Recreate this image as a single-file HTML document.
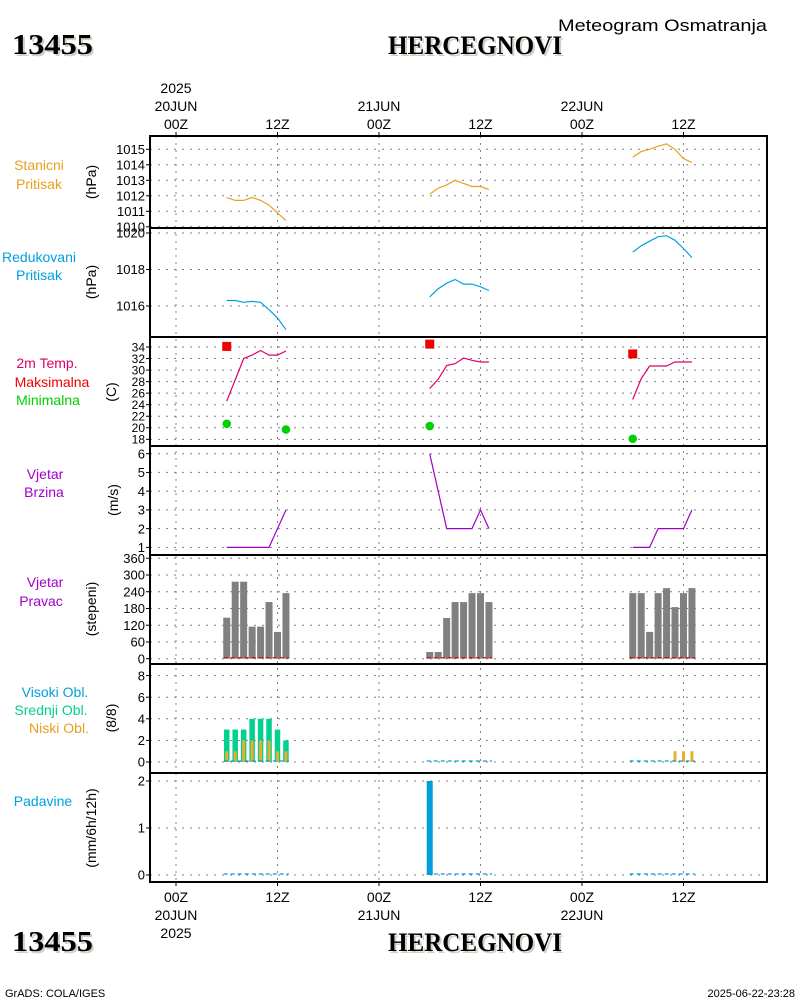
<!DOCTYPE html>
<html><head><meta charset="utf-8"><title>Meteogram</title>
<style>
html,body{margin:0;padding:0;background:#fff;}
svg{display:block;font-family:"Liberation Sans",sans-serif;}
</style></head>
<body>
<svg id="chart" width="800" height="1000" viewBox="0 0 800 1000" xmlns="http://www.w3.org/2000/svg">
<g id="titles">
  <text x="14" y="56" textLength="81" lengthAdjust="spacingAndGlyphs" font-family="Liberation Serif, serif" font-weight="bold" font-size="28" fill="#c8d4c4">13455</text>
  <text x="12" y="54" textLength="81" lengthAdjust="spacingAndGlyphs" font-family="Liberation Serif, serif" font-weight="bold" font-size="28" fill="#000">13455</text>
  <text x="390" y="56" textLength="174" lengthAdjust="spacingAndGlyphs" font-family="Liberation Serif, serif" font-weight="bold" font-size="26" fill="#c8d4c4">HERCEGNOVI</text>
  <text x="388" y="54" textLength="174" lengthAdjust="spacingAndGlyphs" font-family="Liberation Serif, serif" font-weight="bold" font-size="26" fill="#000">HERCEGNOVI</text>
  <text x="558" y="31" textLength="209" lengthAdjust="spacingAndGlyphs" font-size="17" fill="#000">Meteogram Osmatranja</text>
  <text x="14" y="953" textLength="81" lengthAdjust="spacingAndGlyphs" font-family="Liberation Serif, serif" font-weight="bold" font-size="28" fill="#c8d4c4">13455</text>
  <text x="12" y="951" textLength="81" lengthAdjust="spacingAndGlyphs" font-family="Liberation Serif, serif" font-weight="bold" font-size="28" fill="#000">13455</text>
  <text x="390" y="953" textLength="174" lengthAdjust="spacingAndGlyphs" font-family="Liberation Serif, serif" font-weight="bold" font-size="26" fill="#c8d4c4">HERCEGNOVI</text>
  <text x="388" y="951" textLength="174" lengthAdjust="spacingAndGlyphs" font-family="Liberation Serif, serif" font-weight="bold" font-size="26" fill="#000">HERCEGNOVI</text>
  <text x="5" y="997" font-size="11" fill="#000">GrADS: COLA/IGES</text>
  <text x="795" y="997" text-anchor="end" font-size="11" fill="#000">2025-06-22-23:28</text>
</g>
<g id="labels" font-size="14" text-anchor="middle">
  <text x="39" y="170" fill="#e8a020">Stanicni</text>
  <text x="39" y="189" fill="#e8a020">Pritisak</text>
  <text x="39" y="262" fill="#00a0e0">Redukovani</text>
  <text x="39" y="280" fill="#00a0e0">Pritisak</text>
  <text x="47" y="368" fill="#e0006a">2m Temp.</text>
  <text x="52" y="387" fill="#f00000">Maksimalna</text>
  <text x="48" y="405" fill="#00d000">Minimalna</text>
  <text x="45" y="479" fill="#a000c8">Vjetar</text>
  <text x="44" y="497" fill="#a000c8">Brzina</text>
  <text x="45" y="587" fill="#a000c8">Vjetar</text>
  <text x="41" y="606" fill="#a000c8">Pravac</text>
  <text x="55" y="697" fill="#00a0e0">Visoki Obl.</text>
  <text x="51" y="715" fill="#00d090">Srednji Obl.</text>
  <text x="59" y="733" fill="#e8a020">Niski Obl.</text>
  <text x="43" y="806" fill="#00a0e0">Padavine</text>
</g>
<g id="grid"></g>
<g id="marks"></g>
<g id="axes"></g>
</svg>
<script>
// ---- data ----
const hours1 = [6,7,8,9,10,11,12,13];
const hours2 = [30,31,32,33,34,35,36,37];
const hours3 = [54,55,56,57,58,59,60,61];
const stationP1 = [1011.9,1011.7,1011.7,1011.9,1011.7,1011.4,1010.9,1010.4];
const stationP2 = [1012.1,1012.5,1012.7,1013.0,1012.8,1012.6,1012.6,1012.4];
const stationP3 = [1014.5,1014.85,1015.0,1015.2,1015.35,1015.0,1014.4,1014.15];
const reducedP1 = [1016.3,1016.3,1016.2,1016.25,1016.2,1015.8,1015.35,1014.7];
const reducedP2 = [1016.5,1016.95,1017.25,1017.45,1017.2,1017.2,1017.05,1016.85];
const reducedP3 = [1018.95,1019.3,1019.55,1019.8,1019.85,1019.6,1019.15,1018.65];
const temp1 = [24.6,28.3,32.0,32.6,33.4,32.6,32.6,33.3];
const temp2 = [26.8,28.4,30.8,31.1,32.1,31.7,31.4,31.4];
const temp3 = [24.9,28.5,30.7,30.7,30.7,31.4,31.4,31.4];
const tmaxHours = [6,30,54];
const tmaxValues = [34.1,34.5,32.8];
const tminHours = [6,13,30,54];
const tminValues = [20.7,19.7,20.3,18.1];
const wind1 = [1,1,1,1,1,1,2,3];
const wind2 = [6,4,2,2,2,2,3,2];
const wind3 = [1,1,1,2,2,2,2,3];
const dir1 = [147,276,276,115,115,203,96,235];
const dir2 = [24,24,146,203,203,235,235,203];
const dir3 = [235,235,96,235,253,185,235,253];
const midCloud1 = [3,3,3,4,4,4,3,2];
const midCloud2 = [0,0,0,0,0,0,0,0];
const midCloud3 = [0,0,0,0,0,0,0,0];
const lowCloud1 = [1,1,2,2,2,2,1,1];
const lowCloud2 = [0,0,0,0,0,0,0,0];
const lowCloud3 = [0,0,0,0,0,1,1,1];
const precip1 = [0,0,0,0,0,0,0,0];
const precip2 = [2,0,0,0,0,0,0,0];
const precip3 = [0,0,0,0,0,0,0,0];
const ticksP = [1010,1011,1012,1013,1014,1015];
const ticksR = [1016,1018,1020];
const ticksT = [18,20,22,24,26,28,30,32,34];
const ticksW = [1,2,3,4,5,6];
const ticksD = [0,60,120,180,240,300,360];
const ticksC = [0,2,4,6,8];
const ticksR12 = [0,1,2];
const timeHours = [0,12,24,36,48,60];
const timeTop = ["00Z","12Z","00Z","12Z","00Z","12Z"];
const dayLabels = ["20JUN","","21JUN","","22JUN",""];

// ---- helpers ----
const NS = "http://www.w3.org/2000/svg";
const L = 150, R = 767, TOP = 136, BOT = 882;
const xOf = h => 176 + h * 8.458;
function mk(tag, attrs, parent) {
  const e = document.createElementNS(NS, tag);
  for (const k in attrs) e.setAttribute(k, attrs[k]);
  parent.appendChild(e);
  return e;
}
const grid = document.getElementById('grid');
const marks = document.getElementById('marks');
const axes = document.getElementById('axes');
const panels = {
  p: {t:136,b:228,v0:1015,y0:149.3,k:15.5},
  r: {t:228,b:337,v0:1020,y0:233,k:18.25},
  t: {t:337,b:446,v0:34,y0:347,k:5.77},
  w: {t:446,b:555,v0:6,y0:453.7,k:18.73},
  d: {t:555,b:664,v0:0,y0:658.7,k:0.279},
  c: {t:664,b:773,v0:0,y0:762,k:10.8},
  x: {t:773,b:882,v0:0,y0:875,k:47}
};
const yOf = (p, v) => p.y0 - (v - p.v0) * p.k;

timeHours.forEach(h => {
  const l = mk('line', {x1:xOf(h), x2:xOf(h), y1:TOP, y2:BOT, stroke:'#808080', 'stroke-dasharray':'2,5', 'stroke-width':1}, grid);
  
  
});
function yTicks(p, ticks, name, fs) {
  ticks.forEach(v => {
    const y = yOf(p, v);
    const gl = mk('line', {x1:L, x2:R, y1:y, y2:y, stroke:'#808080', 'stroke-dasharray':'2,6', 'stroke-width':1}, grid);
    
    
    const tk = mk('line', {x1:L-4, x2:L, y1:y, y2:y, stroke:'#000', 'stroke-width':1}, axes);
    
    
    const t = mk('text', {x:L-5, y:y+fs*0.36, 'text-anchor':'end', 'font-size':fs, fill:'#000'}, axes);
    t.textContent = v;
    
    
  });
}
yTicks(panels.p, ticksP, 'station-pressure', 13);
yTicks(panels.r, ticksR, 'reduced-pressure', 13);
yTicks(panels.t, ticksT, 'temperature', 12);
yTicks(panels.w, ticksW, 'wind-speed', 13);
yTicks(panels.d, ticksD, 'wind-direction', 13);
yTicks(panels.c, ticksC, 'cloud-cover', 13);
yTicks(panels.x, ticksR12, 'precipitation', 13);

[['(hPa)',96,182],['(hPa)',96,282],['(C)',116,392],['(m/s)',118,500],['(stepeni)',96,609],['(8/8)',116,718],['(mm/6h/12h)',96,828]].forEach(a => {
  const t = mk('text', {x:a[1], y:a[2], 'text-anchor':'middle', 'font-size':14, fill:'#000', transform:'rotate(-90 '+a[1]+' '+a[2]+')'}, axes);
  t.textContent = a[0];
  
  
});

timeHours.forEach((h, i) => {
  const x = xOf(h);
  const tt = mk('line', {x1:x, x2:x, y1:TOP-4, y2:TOP, stroke:'#000'}, axes);
  
  
  const bt = mk('line', {x1:x, x2:x, y1:BOT, y2:BOT+4, stroke:'#000'}, axes);
  
  
  const a = mk('text', {x:x, y:129, 'text-anchor':'middle', 'font-size':14}, axes);
  a.textContent = timeTop[i];
  
  
  const b = mk('text', {x:x, y:902, 'text-anchor':'middle', 'font-size':14}, axes);
  b.textContent = timeTop[i];
  
  
  if (dayLabels[i]) {
    const d1 = mk('text', {x:x, y:111, 'text-anchor':'middle', 'font-size':14}, axes);
    d1.textContent = dayLabels[i];
    
    
    const d2 = mk('text', {x:x, y:920, 'text-anchor':'middle', 'font-size':14}, axes);
    d2.textContent = dayLabels[i];
    
    
  }
});
const y1 = mk('text', {x:xOf(0), y:93, 'text-anchor':'middle', 'font-size':14}, axes);
y1.textContent = '2025';


const y2 = mk('text', {x:xOf(0), y:938, 'text-anchor':'middle', 'font-size':14}, axes);
y2.textContent = '2025';



const fr = mk('rect', {x:L, y:TOP, width:R-L, height:BOT-TOP, fill:'none', stroke:'#000', 'stroke-width':2}, axes);


[228,337,446,555,664,773].forEach(y => {
  const s = mk('line', {x1:L, x2:R, y1:y, y2:y, stroke:'#000', 'stroke-width':2}, axes);
  
  
});

const hourSets = [hours1, hours2, hours3];
function line(p, vals, hrs, color, name) {
  const pts = hrs.map((h, i) => xOf(h).toFixed(1) + ',' + yOf(p, vals[i]).toFixed(1)).join(' ');
  const e = mk('polyline', {points:pts, fill:'none', stroke:color, 'stroke-width':1.2}, marks);
  
  
}
[stationP1, stationP2, stationP3].forEach((s, i) => line(panels.p, s, hourSets[i], '#e8a020', 'station-pressure-line'));
[reducedP1, reducedP2, reducedP3].forEach((s, i) => line(panels.r, s, hourSets[i], '#00a0e0', 'reduced-pressure-line'));
[temp1, temp2, temp3].forEach((s, i) => line(panels.t, s, hourSets[i], '#e0006a', 'temperature-line'));
[wind1, wind2, wind3].forEach((s, i) => line(panels.w, s, hourSets[i], '#a000c8', 'wind-speed-line'));

tmaxHours.forEach((h, i) => {
  const e = mk('rect', {x:xOf(h)-4.5, y:yOf(panels.t, tmaxValues[i])-4.5, width:9, height:9, fill:'#f00000'}, marks);
  
  
});
tminHours.forEach((h, i) => {
  const e = mk('circle', {cx:xOf(h), cy:yOf(panels.t, tminValues[i]), r:4.3, fill:'#00d000'}, marks);
  
  
});

function bars(p, vals, hrs, w, color, name) {
  hrs.forEach((h, i) => {
    const v = vals[i];
    if (v <= 0) return;
    const yt = yOf(p, v), yb = yOf(p, 0);
    const e = mk('rect', {x:xOf(h)-w/2, y:yt, width:w, height:yb-yt, fill:color}, marks);
    
    
  });
}
function baseDash(p, hrs, color, name, off) {
  const y = yOf(p, 0) + (off || 0);
  const e = mk('line', {x1:xOf(hrs[0])-3, x2:xOf(hrs[hrs.length-1])+3, y1:y, y2:y, stroke:color, 'stroke-width':1.2, 'stroke-dasharray':'4,3'}, marks);
  
  
}
[dir1, dir2, dir3].forEach((s, i) => {
  bars(panels.d, s, hourSets[i], 7, '#808080', 'wind-direction-bar');
  baseDash(panels.d, hourSets[i], '#e00000', 'wind-direction-baseline', -1);
});
[midCloud1, midCloud2, midCloud3].forEach((s, i) => bars(panels.c, s, hourSets[i], 5.5, '#00d090', 'mid-cloud-bar'));
[lowCloud1, lowCloud2, lowCloud3].forEach((s, i) => bars(panels.c, s, hourSets[i], 3, '#e8b030', 'low-cloud-bar'));
hourSets.forEach(hrs => {
  baseDash(panels.c, hrs, '#00a0e0', 'high-cloud-baseline', -1);
});
[precip1, precip2, precip3].forEach((s, i) => {
  bars(panels.x, s, hourSets[i], 6, '#00a0e0', 'precipitation-bar');
  baseDash(panels.x, hourSets[i], '#00a0e0', 'precipitation-baseline', -1);
});
</script>
</body></html>
